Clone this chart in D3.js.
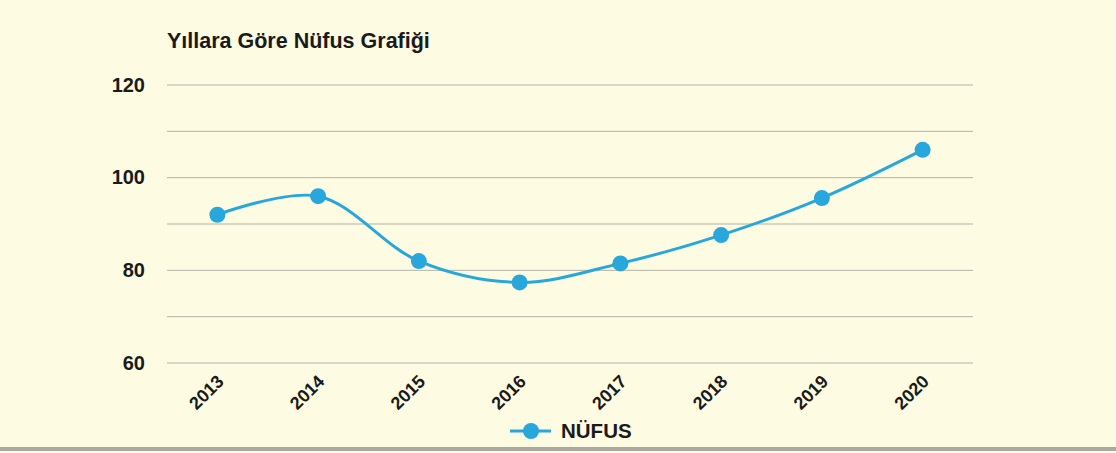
<!DOCTYPE html>
<html>
<head>
  <meta charset="utf-8">
  <title>Yıllara Göre Nüfus Grafiği</title>
  <style>
    body { margin: 0; background: #fdfbe2; }
    text { font-family: "Liberation Sans", Arial, sans-serif; font-weight: bold; fill: #1a1a1a; }
  </style>
</head>
<body>
  <script src="https://d3js.org/d3.v7.min.js"></script>
  <script>
    const years = ['2013', '2014', '2015', '2016', '2017', '2018', '2019', '2020'];
    const nufus = [92, 96, 82, 77.4, 81.5, 87.6, 95.6, 106];
    const yTicks = [60, 80, 100, 120];
    const gridTicks = [60, 70, 80, 90, 100, 110, 120];

    const width = 1116;
    const height = 453;

    const svg = d3.select('body')
      .append('svg')
      .attr('width', width)
      .attr('height', height);

    svg.append('rect')
      .attr('width', width)
      .attr('height', height)
      .attr('fill', '#fdfbe2');

    // bottom border
    svg.append('rect')
      .attr('y', 447)
      .attr('width', width)
      .attr('height', 4)
      .attr('fill', '#a9a9a2');

    const x = d3.scalePoint()
      .domain(years)
      .range([167, 973])
      .padding(0.5);

    const y = d3.scaleLinear()
      .domain([60, 120])
      .range([363, 85]);

    svg.append('text')
      .attr('x', 167)
      .attr('y', 48)
      .style('font-size', '21.5px')
      .text('Yıllara Göre Nüfus Grafiği');

    // grid lines
    svg.append('g')
      .selectAll('line')
      .data(gridTicks)
      .join('line')
      .attr('x1', 167)
      .attr('x2', 973)
      .attr('y1', d => y(d))
      .attr('y2', d => y(d))
      .attr('stroke', '#b3b1a6')
      .attr('stroke-width', 1);

    // y labels
    svg.append('g')
      .selectAll('text')
      .data(yTicks)
      .join('text')
      .attr('x', 145)
      .attr('y', d => y(d) + 6.5)
      .attr('text-anchor', 'end')
      .style('font-size', '20px')
      .text(d => d);

    // x labels
    svg.append('g')
      .selectAll('text')
      .data(years)
      .join('text')
      .attr('transform', d => `translate(${x(d) - 2},${373}) rotate(-45)`)
      .attr('text-anchor', 'end')
      .attr('dy', '0.75em')
      .style('font-size', '18px')
      .text(d => d);

    const color = '#27a7dc';

    const line = d3.line()
      .x((d, i) => x(years[i]))
      .y(d => y(d))
      .curve(d3.curveCatmullRom.alpha(0.5));

    svg.append('path')
      .datum(nufus)
      .attr('d', line)
      .attr('fill', 'none')
      .attr('stroke', color)
      .attr('stroke-width', 3);

    svg.append('g')
      .selectAll('circle')
      .data(nufus)
      .join('circle')
      .attr('cx', (d, i) => x(years[i]))
      .attr('cy', d => y(d))
      .attr('r', 8)
      .attr('fill', color);

    // legend
    const legend = svg.append('g');
    legend.append('line')
      .attr('x1', 510)
      .attr('x2', 551)
      .attr('y1', 431)
      .attr('y2', 431)
      .attr('stroke', color)
      .attr('stroke-width', 3);
    legend.append('circle')
      .attr('cx', 531)
      .attr('cy', 431)
      .attr('r', 8)
      .attr('fill', color);
    legend.append('text')
      .attr('x', 561)
      .attr('y', 438)
      .style('font-size', '20.5px')
      .text('NÜFUS');
  </script>
</body>
</html>
